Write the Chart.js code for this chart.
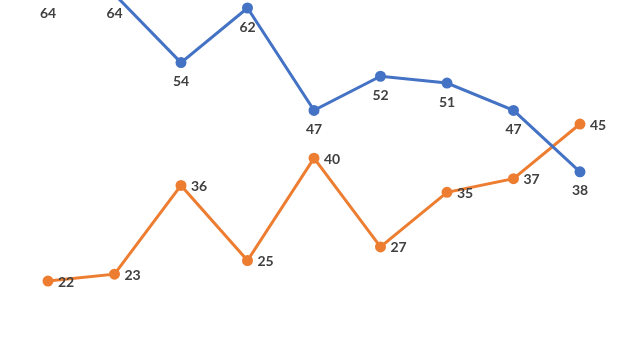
<!DOCTYPE html>
<html>
<head>
<meta charset="utf-8">
<style>
html,body{margin:0;padding:0;background:#fff;}
canvas{display:block;}
</style>
<script src="https://cdn.jsdelivr.net/npm/chart.js@4"></script>
</head>
<body>
<canvas id="c" width="640" height="360"></canvas>
<script>
const categories = ["1","2","3","4","5","6","7","8","9"];
const blueValues = [64, 64, 54, 62, 47, 52, 51, 47, 38];
const orangeValues = [22, 23, 36, 25, 40, 27, 35, 37, 45];

const labelPlugin = {
  id: 'valueLabels',
  afterDatasetsDraw(chart) {
    const ctx = chart.ctx;
    ctx.save();
    ctx.font = 'bold 14px Lato, "Open Sans", sans-serif';
    ctx.fillStyle = '#404040';
    chart.data.datasets.forEach((ds, i) => {
      const meta = chart.getDatasetMeta(i);
      meta.data.forEach((pt, j) => {
        const v = ds.data[j];
        if (ds.labelPos === 'below') {
          ctx.textAlign = 'center';
          ctx.textBaseline = 'middle';
          ctx.fillText(String(v), pt.x, pt.y + 19);
        } else {
          ctx.textAlign = 'left';
          ctx.textBaseline = 'middle';
          ctx.fillText(String(v), pt.x + 10, pt.y + 1);
        }
      });
    });
    ctx.restore();
  }
};

new Chart(document.getElementById('c'), {
  type: 'line',
  data: {
    labels: categories,
    datasets: [
      {
        data: blueValues,
        borderColor: '#4472C4',
        backgroundColor: '#4472C4',
        borderWidth: 3,
        pointRadius: 4,
        pointHoverRadius: 4,
        tension: 0,
        labelPos: 'below'
      },
      {
        data: orangeValues,
        borderColor: '#ED7D31',
        backgroundColor: '#ED7D31',
        borderWidth: 3,
        pointRadius: 4,
        pointHoverRadius: 4,
        tension: 0,
        labelPos: 'right'
      }
    ]
  },
  options: {
    responsive: false,
    animation: false,
    layout: { autoPadding: false, padding: { left: 14.75, right: 26.75, top: 0, bottom: 0 } },
    plugins: { legend: { display: false }, tooltip: { enabled: false } },
    scales: {
      x: { display: false, offset: true },
      y: { display: false, min: 10.43, max: 63.17 }
    }
  },
  plugins: [labelPlugin]
});
</script>
</body>
</html>
